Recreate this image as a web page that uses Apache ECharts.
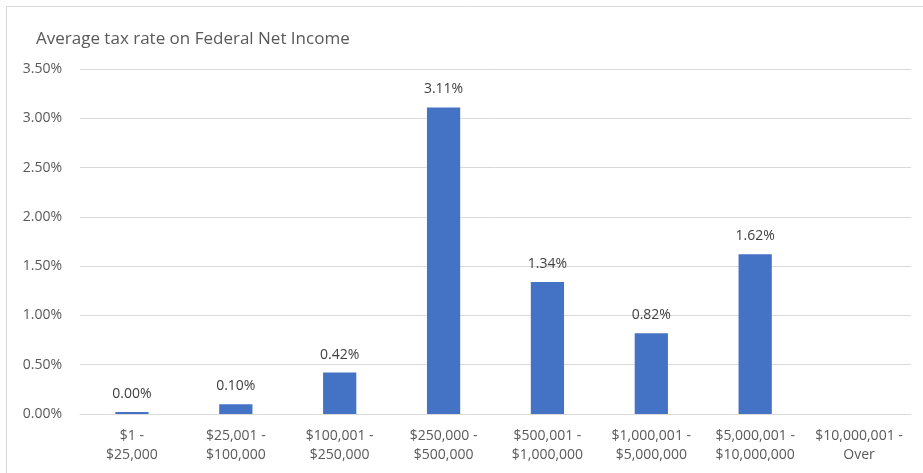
<!DOCTYPE html>
<html><head><meta charset="utf-8">
<script src="https://cdn.jsdelivr.net/npm/echarts@6/dist/echarts.min.js"></script>
<style>html,body{margin:0;padding:0;background:#fff}#c{width:923px;height:473px}</style>
</head><body><div id="c"></div>
<script>
const categories = ['$1 -\n$25,000','$25,001 -\n$100,000','$100,001 -\n$250,000','$250,000 -\n$500,000','$500,001 -\n$1,000,000','$1,000,001 -\n$5,000,000','$5,000,001 -\n$10,000,000','$10,000,001 -\nOver'];
const rates = [0.00004, 0.0010, 0.0042, 0.0311, 0.0134, 0.0082, 0.0162, null];
const title = 'Average tax rate on Federal Net Income';
const chart = echarts.init(document.getElementById('c'));
const font = "'Open Sans', 'Liberation Sans', sans-serif";
chart.setOption({
  animation: false,
  textStyle: {fontFamily: font},
  graphic: [{type:'rect', shape:{x:6.5,y:6.5,width:930,height:480}, style:{fill:'none', stroke:'#d9d9d9', lineWidth:1}, silent:true}],
  title: {text: title, left: 31, top: 26, textStyle:{fontFamily:font, fontSize:17, fontWeight:'normal', color:'#595959'}},
  grid: {left: 80, right: 12, top: 69, bottom: 59},
  xAxis: {type:'category', data: categories,
    axisLine:{lineStyle:{color:'#d9d9d9'}}, axisTick:{show:false},
    axisLabel:{color:'#595959', fontSize:14, lineHeight:19, margin:13, interval:0, fontFamily:font}},
  yAxis: {type:'value', min:0, max:0.035, interval:0.005,
    axisLabel:{color:'#595959', fontSize:14, margin:18, fontFamily:font, formatter: v => (v*100).toFixed(2)+'%'},
    splitLine:{lineStyle:{color:'#d9d9d9'}}, axisLine:{show:false}, axisTick:{show:false}},
  series: [{type:'bar', data: rates, barWidth:'32%', barMinHeight:2,
    itemStyle:{color:'#4472C4'},
    label:{show:true, position:'top', distance:11, color:'#404040', fontSize:14, fontFamily:font,
      formatter: p => p.value == null ? '' : (p.value*100).toFixed(2)+'%'}}]
});
</script></body></html>
